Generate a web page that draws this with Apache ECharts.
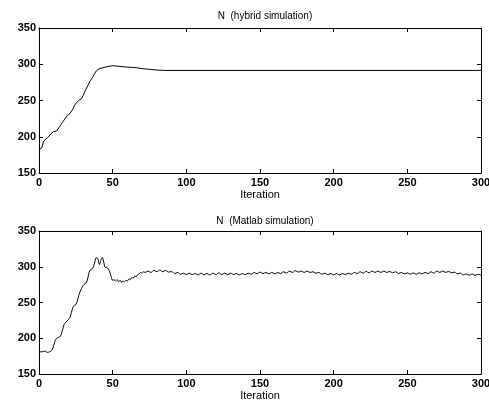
<!DOCTYPE html>
<html lang="en">
<head>
    <meta charset="UTF-8">
    <title>N simulation</title>
    <script src="https://cdn.jsdelivr.net/npm/echarts@6/dist/echarts.min.js"></script>
</head>
<body style="margin:0;background:#fff">
<div id="main" style="width:489px;height:402px;"></div>
<script type="text/javascript">
    // hybrid simulation: [iteration, N]
    var hybridIter = [0, 1, 2, 3, 4, 5, 6, 7, 8, 9, 10, 11, 12, 13, 14, 15, 16, 17, 18, 19, 20,
        21, 22, 23, 24, 25, 26, 27, 28, 29, 30, 31, 32, 33, 34, 35, 36, 37, 38, 39, 40,
        41, 42, 43, 44, 45, 46, 47, 48, 50, 55, 60, 65, 70, 75, 80, 85, 300];
    var hybridN = [182, 183, 185, 193, 196, 197, 199, 201, 204, 206, 207, 207, 208, 210, 214, 217, 220, 222, 226, 229, 231,
        232, 234, 238, 243, 246, 248, 250, 251, 253, 257, 262, 266, 270, 274, 278, 281, 284, 288, 291, 293,
        294, 295, 295, 296, 296, 297, 297, 298, 298, 297, 296, 295.5, 294, 293, 292, 291.5, 291.5];

    // Matlab simulation: [iteration, N]
    var matIter = [0, 2, 4, 5, 6, 7, 8, 9, 10, 11, 12, 13, 14, 15, 16, 17, 18, 19, 20,
        21, 22, 23, 24, 25, 26, 27, 28, 29, 30, 31, 32, 33, 34, 35, 36, 37, 38, 39, 40,
        41, 42, 43, 44, 45, 46, 47, 48, 49, 50, 51, 52, 53, 54, 55, 56, 57, 58, 59, 60,
        61, 62, 63, 64, 65, 66, 67, 68, 69, 70, 71, 72,
        74, 76, 78, 80, 82, 84, 86, 88, 90, 92, 94, 96, 98, 100,
        102, 104, 106, 108, 110, 112, 114, 116, 118, 120, 122, 124, 126, 128, 130,
        132, 134, 136, 138, 140, 142, 144, 146, 148, 150, 152, 154, 156, 158, 160,
        162, 164, 166, 168, 170, 172, 174, 176, 178, 180, 182, 184, 186, 188, 190,
        192, 194, 196, 198, 200, 202, 204, 206, 208, 210, 212, 214, 216, 218, 220,
        222, 224, 226, 228, 230, 232, 234, 236, 238, 240, 242, 244, 246, 248, 250,
        252, 254, 256, 258, 260, 262, 264, 266, 268, 270, 272, 274, 276, 278, 280,
        282, 284, 286, 288, 290, 292, 294, 296, 298, 300];
    var matN = [181, 181, 182, 181, 180, 181, 182, 184, 190, 197, 200, 201, 202, 205, 212, 219, 222, 224, 226,
        229, 236, 243, 246, 247, 252, 260, 266, 270, 274, 276, 277, 283, 292, 296, 297, 300, 308, 313, 311,
        303, 309, 313, 306, 299, 299, 297, 293, 286, 281, 282, 280, 282, 279, 281, 278, 280, 279, 281, 280,
        283, 282, 285, 284, 287, 286, 289, 290, 292, 291, 293, 292,
        294, 292, 295, 293, 295.5, 293, 295, 292.5, 293.5, 290.5, 292, 289.5, 291, 289,
        291, 289, 290.5, 288.5, 291, 289, 290.5, 288.5, 291, 289, 291.5, 289, 291, 289, 291,
        289, 290.5, 288.5, 290.5, 289, 291, 289.5, 292, 290, 292.5, 290.5, 292, 290, 292, 290,
        292, 290.5, 293, 291, 294, 292, 294.5, 292.5, 294, 292, 294, 292, 293, 291, 292,
        289.5, 291, 289, 290.5, 288.5, 290.5, 288.5, 290.5, 289, 291, 289.5, 292, 290.5, 293, 291,
        293.5, 291.5, 294, 292, 294, 292, 294, 292, 293.5, 291.5, 293, 290.5, 292, 290, 291.5,
        289.5, 291.5, 289.5, 291.5, 290, 292, 290.5, 293, 291, 294, 292, 294, 292, 293.5, 291.5,
        292.5, 290, 291, 288.5, 290, 288, 290, 288, 289.5, 288];

    var xTicks = [0, 50, 100, 150, 200, 250, 300];
    var yTicks = [150, 200, 250, 300, 350];

    function pairs(xs, ys) {
        var out = [];
        for (var i = 0; i < xs.length; i++) out.push([xs[i], ys[i]]);
        return out;
    }

    var labelFont = { color: '#000', fontSize: 11, fontWeight: 'bold', fontFamily: 'Liberation Sans, Arial, sans-serif' };
    var nameFont = { color: '#000', fontSize: 11, fontWeight: 'normal', fontFamily: 'Liberation Sans, Arial, sans-serif' };
    var black = { color: '#000', width: 1 };

    function xAx(grid, pos, showLabel) {
        return {
            type: 'value', gridIndex: grid, position: pos, min: xTicks[0], max: xTicks[xTicks.length - 1], interval: 50,
            axisLine: { show: true, onZero: false, lineStyle: black },
            axisTick: { show: true, inside: true, length: 4, lineStyle: black },
            axisLabel: Object.assign({ show: showLabel, margin: 4 }, labelFont),
            splitLine: { show: false },
            name: showLabel ? 'Iteration' : '',
            nameLocation: 'middle', nameGap: 16,
            nameTextStyle: nameFont
        };
    }
    function yAx(grid, pos, showLabel) {
        return {
            type: 'value', gridIndex: grid, position: pos, min: yTicks[0], max: yTicks[yTicks.length - 1], interval: 50,
            axisLine: { show: true, onZero: false, lineStyle: black },
            axisTick: { show: true, inside: true, length: 4, lineStyle: black },
            axisLabel: Object.assign({ show: showLabel, margin: 3 }, labelFont),
            splitLine: { show: false }
        };
    }

    var myChart = echarts.init(document.getElementById('main'));
    var titleStyle = { color: '#000', fontSize: 10, fontWeight: 'normal', fontFamily: 'Liberation Sans, Arial, sans-serif' };

    option = {
        backgroundColor: '#fff',
        animation: false,
        title: [
            { text: 'N  (hybrid simulation)', left: 260, top: 6, textAlign: 'center', textStyle: titleStyle },
            { text: 'N  (Matlab simulation)', left: 260, top: 211, textAlign: 'center', textStyle: titleStyle }
        ],
        grid: [
            { left: 39, right: 8, top: 28, height: 145, outerBoundsMode: 'none', containLabel: false },
            { left: 39, right: 8, top: 231, height: 143, outerBoundsMode: 'none', containLabel: false }
        ],
        xAxis: [xAx(0, 'bottom', true), xAx(0, 'top', false), xAx(1, 'bottom', true), xAx(1, 'top', false)],
        yAxis: [yAx(0, 'left', true), yAx(0, 'right', false), yAx(1, 'left', true), yAx(1, 'right', false)],
        series: [
            {
                type: 'line', xAxisIndex: 0, yAxisIndex: 0, showSymbol: false,
                lineStyle: { color: '#000', width: 1 },
                data: pairs(hybridIter, hybridN)
            },
            {
                type: 'line', xAxisIndex: 2, yAxisIndex: 2, showSymbol: false, smooth: 0.3,
                lineStyle: { color: '#000', width: 1 },
                data: pairs(matIter, matN)
            }
        ]
    };

    myChart.setOption(option);
</script>
</body>
</html>
